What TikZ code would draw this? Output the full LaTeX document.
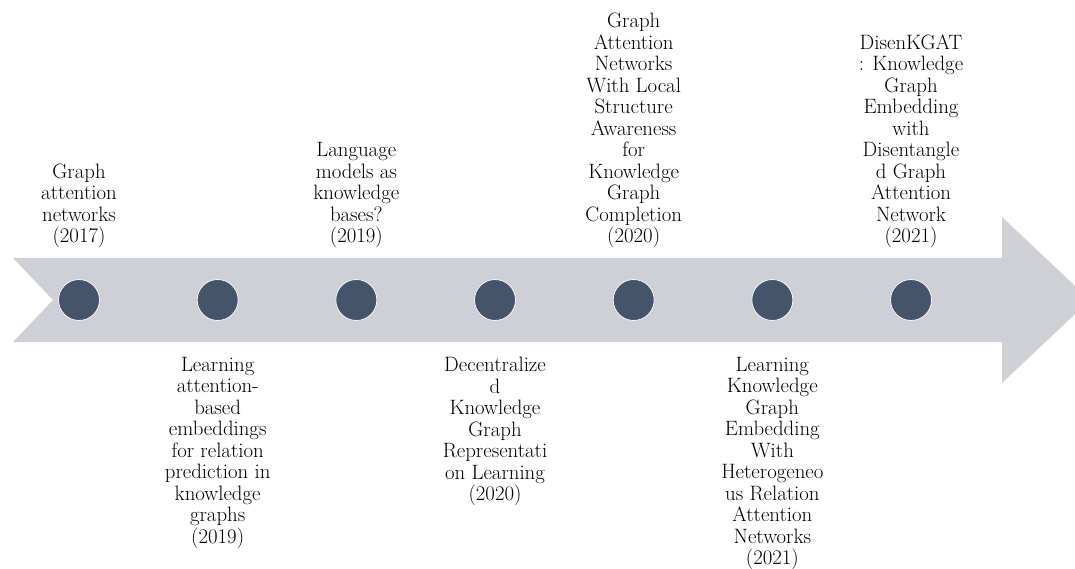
\documentclass[tikz,border=0pt]{standalone}
\usetikzlibrary{positioning}
\definecolor{bandgray}{RGB}{206,208,213}
\definecolor{dotblue}{RGB}{68,84,106}
\tikzset{
  dot/.style={circle, fill=dotblue, draw=white!80!bandgray, line width=0.8pt, minimum size=41pt, inner sep=0pt},
  paper/.style={align=center, inner sep=0pt, font=\fontsize{20.8}{21.5}\selectfont},
}
\begin{document}
\begin{tikzpicture}[x=1pt,y=1pt]
  \useasboundingbox (0,0) rectangle (1075,568);
  \clip (0,0) rectangle (1075,568);

  % arrow band
  \fill[bandgray] (13,310) -- (1002,310) -- (1002,351) -- (1090,268) -- (1002,185)
    -- (1002,226) -- (13,226) -- (53,268) -- cycle;

  % milestones
  \foreach \i in {1,...,7}
    \node[dot] (c\i) at ({79+138.67*(\i-1)},268) {};

  % papers above
  \node[paper, above=31pt of c1] (t1) {Graph\\attention\\networks\\(2017)};
  \node[paper, above=31pt of c3] (t3) {Language\\models as\\knowledge\\bases?\\(2019)};
  \node[paper, above=31pt of c5] (t5) {Graph\\Attention\\Networks\\With Local\\Structure\\Awareness\\for\\Knowledge\\Graph\\Completion\\(2020)};
  \node[paper, above=31pt of c7] (t7) {DisenKGAT\\: Knowledge\\Graph\\Embedding\\with\\Disentangle\\d Graph\\Attention\\Network\\(2021)};

  % papers below
  \node[paper, below=36pt of c2] (t2) {Learning\\attention-\\based\\embeddings\\for relation\\prediction in\\knowledge\\graphs\\(2019)};
  \node[paper, below=36pt of c4] (t4) {Decentralize\\d\\Knowledge\\Graph\\Representati\\on Learning\\(2020)};
  \node[paper, below=36pt of c6] (t6) {Learning\\Knowledge\\Graph\\Embedding\\With\\Heterogeneo\\us Relation\\Attention\\Networks\\(2021)};
\end{tikzpicture}
\end{document}
